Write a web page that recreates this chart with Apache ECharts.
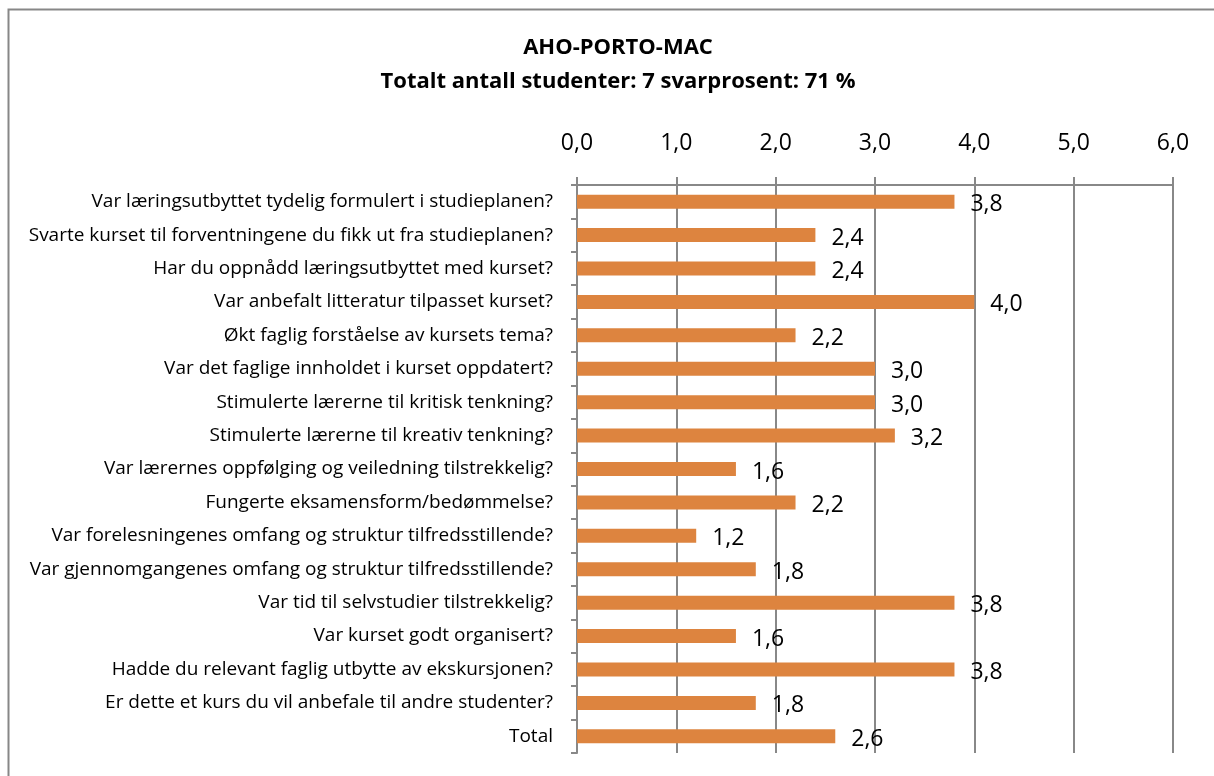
<!DOCTYPE html>
<html>
<head>
<meta charset="utf-8">
<script src="https://cdn.jsdelivr.net/npm/echarts@6/dist/echarts.min.js"></script>
<style>
  html, body { margin: 0; padding: 0; background: #fff; }
  #chart { width: 1214px; height: 776px; }
</style>
</head>
<body>
<div id="chart"></div>
<script>
const titleLines = ['AHO-PORTO-MAC', 'Totalt antall studenter: 7 svarprosent: 71 %'];

const questions = [
  'Var læringsutbyttet tydelig formulert i studieplanen?',
  'Svarte kurset til forventningene du fikk ut fra studieplanen?',
  'Har du oppnådd læringsutbyttet med kurset?',
  'Var anbefalt litteratur tilpasset kurset?',
  'Økt faglig forståelse av kursets tema?',
  'Var det faglige innholdet i kurset oppdatert?',
  'Stimulerte lærerne til kritisk tenkning?',
  'Stimulerte lærerne til kreativ tenkning?',
  'Var lærernes oppfølging og veiledning tilstrekkelig?',
  'Fungerte eksamensform/bedømmelse?',
  'Var forelesningenes omfang og struktur tilfredsstillende?',
  'Var gjennomgangenes omfang og struktur tilfredsstillende?',
  'Var tid til selvstudier tilstrekkelig?',
  'Var kurset godt organisert?',
  'Hadde du relevant faglig utbytte av ekskursjonen?',
  'Er dette et kurs du vil anbefale til andre studenter?',
  'Total'
];

const scores = [3.8, 2.4, 2.4, 4.0, 2.2, 3.0, 3.0, 3.2, 1.6, 2.2, 1.2, 1.8, 3.8, 1.6, 3.8, 1.8, 2.6];

const axisMin = 0;
const axisMax = 6;
const axisStep = 1;

const font = '"Open Sans", Lato, sans-serif';
const fmt = v => Number(v).toFixed(1).replace('.', ',');

const chart = echarts.init(document.getElementById('chart'), null, { renderer: 'canvas' });

chart.setOption({
  backgroundColor: '#fff',
  animation: false,
  textStyle: { fontFamily: font },
  graphic: [{
    type: 'rect',
    shape: { x: 8.5, y: 9.5, width: 1300, height: 900 },
    style: { fill: 'none', stroke: '#878787', lineWidth: 2 },
    silent: true
  }],
  title: {
    text: titleLines.join('\n'),
    left: 613,
    textAlign: 'center',
    top: 26,
    textStyle: {
      fontFamily: font,
      fontSize: 22,
      fontWeight: 'bold',
      color: '#000',
      lineHeight: 34
    }
  },
  grid: { left: 577, right: 41, top: 185, bottom: 23 },
  xAxis: {
    type: 'value',
    position: 'top',
    min: axisMin,
    max: axisMax,
    interval: axisStep,
    axisLine: { show: true, lineStyle: { color: '#888', width: 2 } },
    axisTick: { show: true, length: 8, lineStyle: { color: '#888', width: 2 } },
    splitLine: { show: true, lineStyle: { color: '#888', width: 2 } },
    axisLabel: {
      formatter: fmt,
      fontFamily: font,
      fontSize: 23,
      color: '#000',
      margin: 30
    }
  },
  yAxis: {
    type: 'category',
    inverse: true,
    data: questions,
    axisLine: { show: true, lineStyle: { color: '#888', width: 2 } },
    axisTick: { show: true, length: 6, alignWithLabel: false, lineStyle: { color: '#888', width: 2 } },
    axisLabel: {
      fontFamily: font,
      fontSize: 19,
      color: '#000',
      margin: 24
    }
  },
  series: [{
    type: 'bar',
    data: scores,
    barWidth: 14,
    itemStyle: { color: '#DD843F' },
    label: {
      show: true,
      position: 'right',
      distance: 16,
      offset: [0, 3],
      formatter: p => fmt(p.value),
      fontFamily: font,
      fontSize: 23,
      color: '#000'
    }
  }]
});
</script>
</body>
</html>
